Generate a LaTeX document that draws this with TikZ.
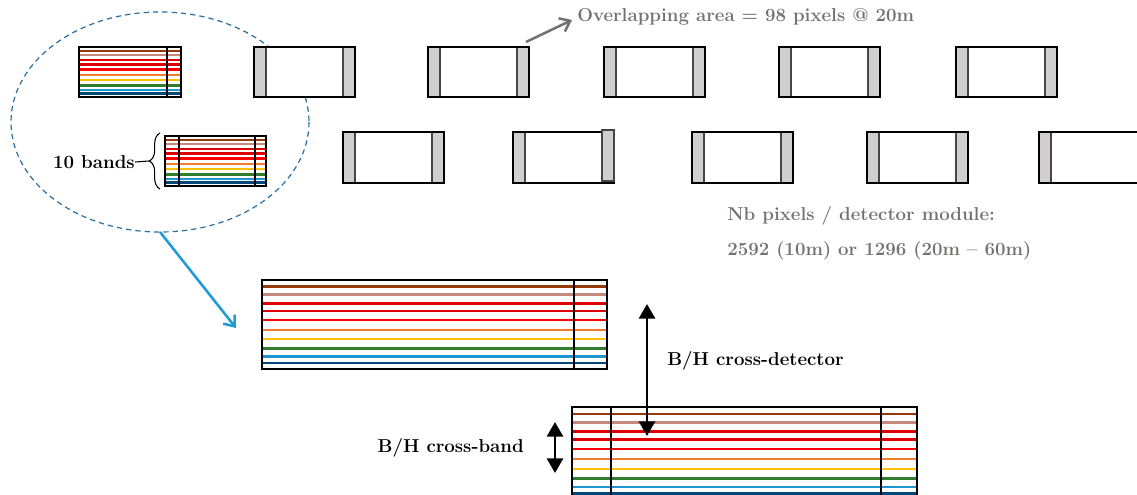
\documentclass[tikz,border=0pt]{standalone}
\usetikzlibrary{arrows.meta}
\usetikzlibrary{decorations.pathreplacing}
\definecolor{bandA}{RGB}{150,58,10}
\definecolor{bandB}{RGB}{196,137,122}
\definecolor{bandC}{RGB}{222,0,0}
\definecolor{bandD}{RGB}{255,0,0}
\definecolor{bandE}{RGB}{240,125,45}
\definecolor{bandF}{RGB}{255,192,0}
\definecolor{bandG}{RGB}{50,125,45}
\definecolor{bandH}{RGB}{30,150,212}
\definecolor{bandI}{RGB}{0,72,122}
\definecolor{capgray}{RGB}{208,206,206}
\definecolor{capedge}{RGB}{70,70,70}
\definecolor{lensblue}{RGB}{40,110,160}
\definecolor{zoomblue}{RGB}{30,155,215}
\definecolor{notegray}{RGB}{118,113,113}

\begin{document}
\begin{tikzpicture}[x=0.75pt,y=-0.75pt,inner sep=0pt,
  capbox/.style={fill=capgray,draw=capedge,line width=1pt},
  frame/.style={draw=black,line width=1.2pt},
  band/.style={line width=1.8pt},
  cut/.style={line width=2pt},
  lens/.style={draw=lensblue,line width=0.9pt,dash pattern=on 4pt off 3pt},
  lbl/.style={font=\fontsize{14}{16}\selectfont\bfseries},
  note/.style={lbl,text=notegray},
  dbl/.style={{Triangle[length=11pt,width=12pt]}-{Triangle[length=11pt,width=12pt]},line width=2.2pt},
  barb/.style={-{Straight Barb[length=7pt,width=11pt]},line width=1.9pt}]
\clip (0,0) rectangle (1137,495);
\def\bands#1#2#3#4{%
  \fill[white] (#1,#2) rectangle (#3,#4);
  \foreach \f/\c in {.075/bandA,.165/bandB,.265/bandC,.35/bandC,.45/bandD,.56/bandE,.665/bandF,.77/bandG,.86/bandH,.93/bandI}
    \draw[band,\c] (#1,{#2+\f*(#4-#2)}) -- (#3,{#2+\f*(#4-#2)});
  \draw[frame] (#1,#2) rectangle (#3,#4);}

\draw[lens] (160,122) ellipse [x radius=149, y radius=110];

\foreach \x in {254,428,604,779,956} {
  \fill[white] (\x,47) rectangle ++(101,50);
  \draw[capbox] (\x,47) rectangle ++(12,50);
  \draw[capbox] (\x+89,47) rectangle ++(12,50);
  \draw[frame] (\x,47) rectangle ++(101,50);
}
\foreach \x in {343,513,692,867} {
  \fill[white] (\x,132) rectangle ++(101,51);
  \draw[capbox] (\x,132) rectangle ++(12,51);
  \draw[capbox] (\x+89,132) rectangle ++(12,51);
  \draw[frame] (\x,132) rectangle ++(101,51);
}
\draw[capbox] (602,130) rectangle ++(12,51);
\draw[capbox] (1039,132) rectangle ++(12,51);
\draw[frame] (1039,132) rectangle (1150,183);

\bands{79}{47}{181}{97}
\draw[cut] (167,47) -- (167,97);
\bands{165}{136}{266}{186}
\draw[cut] (179,136) -- (179,186);
\draw[cut] (255,136) -- (255,186);
\bands{262}{280}{607}{369}
\draw[cut] (574,280) -- (574,369);
\bands{572}{407}{917}{500}
\draw[cut] (611,407) -- (611,500);
\draw[cut] (881,407) -- (881,500);

\draw[decorate,decoration={brace,amplitude=8pt},line width=0.8pt] (160,189) -- (160,133);
\node[lbl,anchor=east] (nbands) at (135,162) {10 bands};
\coordinate (bracetip) at (149,161);
\draw[line width=0.8pt] (nbands.east) -- (bracetip);

\coordinate (lensfoot) at (160,232);
\coordinate (bigtip) at (236,328);
\draw[barb,zoomblue] (lensfoot) -- (bigtip);

\node[note,anchor=west] (overlap) at (577,17) {Overlapping area = 98 pixels @ 20m};
\coordinate (capcorner) at (526,42);
\coordinate (overlaptip) at (572,20);
\draw[barb,notegray] (capcorner) -- (overlaptip);

\node[note,anchor=west] (nbpix) at (727,216) {Nb pixels / detector module:};
\node[note,anchor=west] (nbval) at (727,251) {2592 (10m) or 1296 (20m -- 60m)};

\coordinate (dettop) at (647,304);
\coordinate (detbot) at (647,436);
\draw[dbl] (dettop) -- (detbot);
\node[lbl,anchor=west] (bhdet) at (667,361) {B/H cross-detector};

\coordinate (bandtop) at (555,422);
\coordinate (bandbot) at (555,473);
\draw[dbl] (bandtop) -- (bandbot);
\node[lbl,anchor=east] (bhband) at (524,448) {B/H cross-band};
\end{tikzpicture}
\end{document}
